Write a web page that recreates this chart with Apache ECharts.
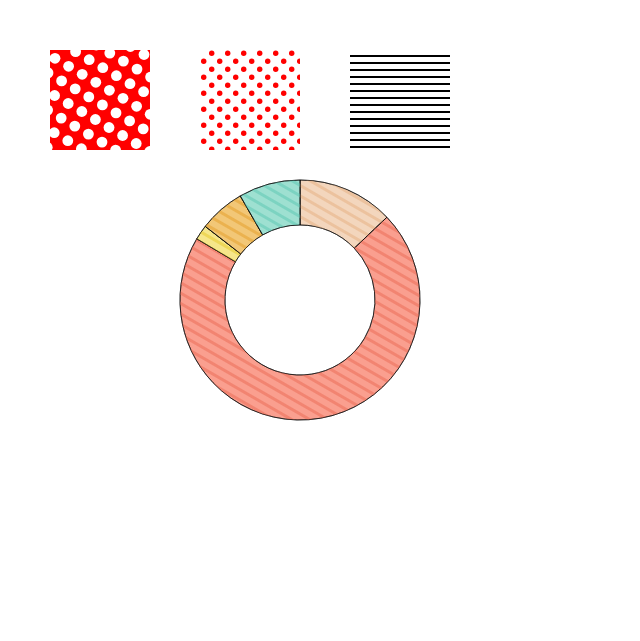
<!DOCTYPE html>
<html>
<head>
<meta charset="utf-8">
<script src="https://cdn.jsdelivr.net/npm/echarts@6/dist/echarts.min.js"></script>
<style>
  html, body { margin: 0; padding: 0; background: #fff; }
  #main { width: 640px; height: 641px; }
</style>
</head>
<body>
<div id="main"></div>
<script>
// 扇区数据 (%)
const sliceNames = ['A', 'B', 'C', 'D', 'E'];
const sliceValues = [12.9, 70.7, 2.0, 6.2, 8.3];
// 底色和条纹色
const sliceColors = ['#f3d6bd', '#fa9f8f', '#f6e68a', '#f2c777', '#9ee0d1'];
const stripeColors = ['#ecc29e', '#f28471', '#eed758', '#ebb24f', '#7cd3c1'];

// 画一个图案小块
function makeTile(w, h, draw) {
    const c = document.createElement('canvas');
    c.width = w;
    c.height = h;
    draw(c.getContext('2d'));
    return c;
}

// 斜向排列的白点 (直接画满 100x100)
const bigDots = makeTile(100, 100, function (ctx) {
    ctx.fillStyle = '#ff0000';
    ctx.fillRect(0, 0, 100, 100);
    ctx.fillStyle = '#ffffff';
    const a = [13.6, 8.0];
    const b = [-7.0, 14.6];
    for (let i = -10; i <= 10; i++) {
        for (let j = -10; j <= 10; j++) {
            const px = 5 + i * a[0] + j * b[0];
            const py = 8.3 + i * a[1] + j * b[1];
            if (px < -8 || px > 108 || py < -8 || py > 108) continue;
            ctx.beginPath();
            ctx.arc(px, py, 5.4, 0, Math.PI * 2);
            ctx.fill();
        }
    }
});

const smallDots = makeTile(16, 16, function (ctx) {
    ctx.fillStyle = '#ff0000';
    [[11.7, 3.3], [3.7, 11.2], [-4.3, 3.3], [19.7, 11.2]].forEach(function (p) {
        ctx.beginPath();
        ctx.arc(p[0], p[1], 2.7, 0, Math.PI * 2);
        ctx.fill();
    });
});

const hLines = makeTile(7, 7, function (ctx) {
    ctx.fillStyle = '#000000';
    ctx.fillRect(0, 5, 7, 2);
});

const chart = echarts.init(document.getElementById('main'));
const option = {
    animation: false,
    backgroundColor: '#ffffff',
    graphic: [
        {
            type: 'image',
            x: 50,
            y: 50,
            style: { image: bigDots, x: 0, y: 0, width: 100, height: 100 },
            silent: true
        },
        {
            type: 'rect',
            x: 200,
            y: 50,
            shape: { x: 0, y: 0, width: 100, height: 100 },
            style: { fill: { image: smallDots, repeat: 'repeat' } },
            silent: true
        },
        {
            type: 'rect',
            x: 350,
            y: 50,
            shape: { x: 0, y: 0, width: 100, height: 100 },
            style: { fill: { image: hLines, repeat: 'repeat' } },
            silent: true
        }
    ],
    series: [{
        type: 'pie',
        center: [300, 300],
        radius: [75, 120],
        startAngle: 90,
        silent: true,
        label: { show: false },
        labelLine: { show: false },
        itemStyle: {
            borderColor: '#000',
            borderWidth: 0.6
        },
        data: sliceValues.map(function (v, i) {
            return {
                name: sliceNames[i],
                value: v,
                itemStyle: {
                    color: sliceColors[i],
                    decal: {
                        symbol: 'rect',
                        dashArrayX: [1, 0],
                        dashArrayY: [2.6, 5.4],
                        rotation: Math.PI / 6,
                        color: stripeColors[i]
                    }
                }
            };
        })
    }]
};
chart.setOption(option);
</script>
</body>
</html>
